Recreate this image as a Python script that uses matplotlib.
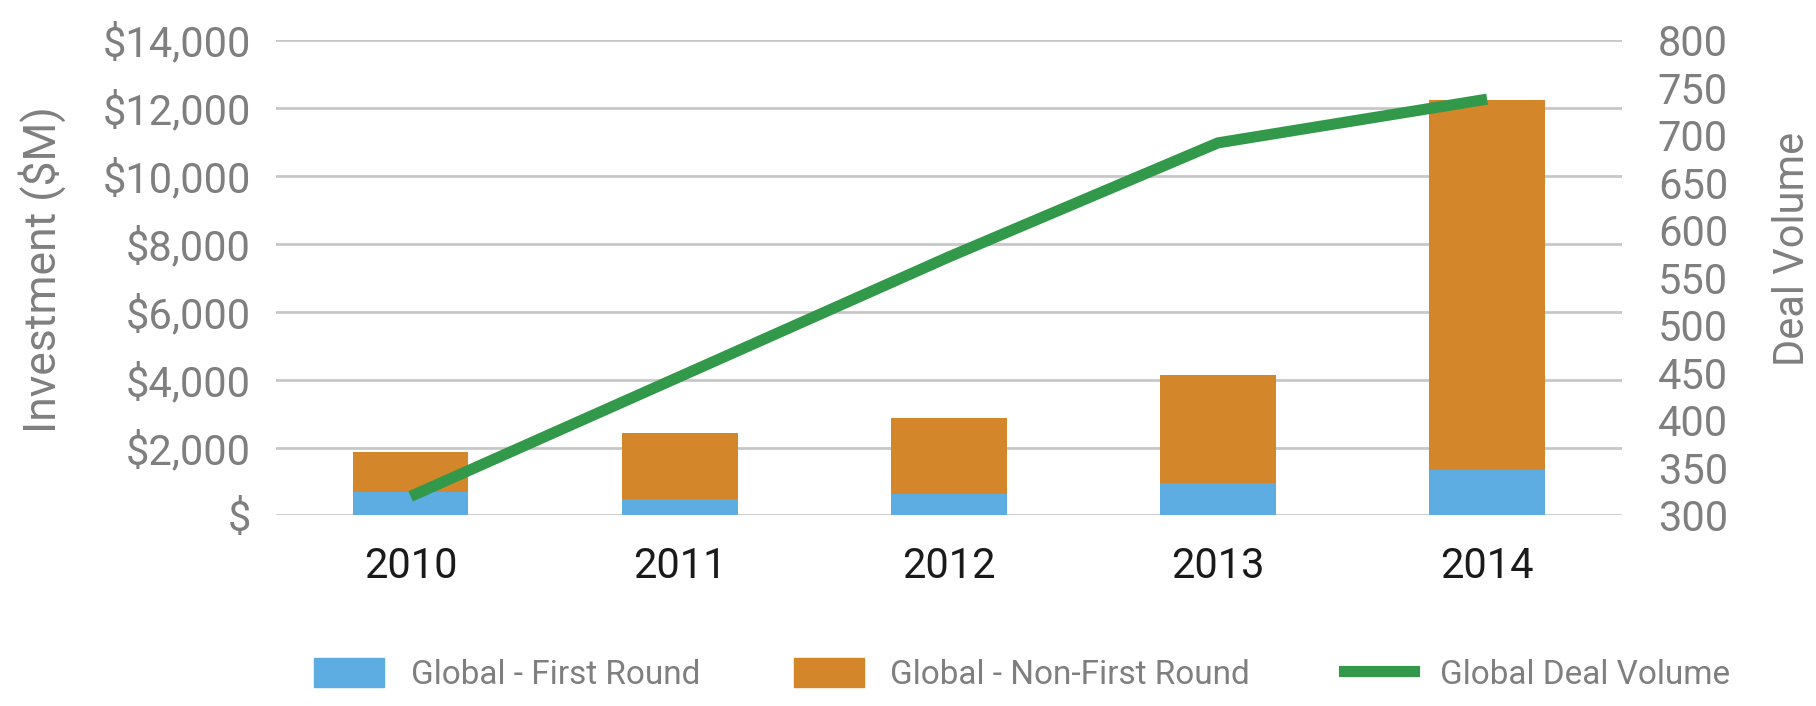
import matplotlib
matplotlib.use("Agg")
import matplotlib.pyplot as plt
from matplotlib.patches import Patch
from matplotlib.lines import Line2D
from matplotlib.ticker import FuncFormatter, MultipleLocator

years = ["2010", "2011", "2012", "2013", "2014"]
first_round = [700, 470, 630, 950, 1350]
non_first_round = [1170, 1970, 2230, 3200, 10900]
deal_volume = [320, 446, 572, 692, 738]

blue = "#5DADE2"
orange = "#D4862A"
green = "#33994A"
gray = "#7F7F7F"

fam = ["Roboto", "DejaVu Sans"]
plt.rcParams["font.family"] = fam

fig = plt.figure(figsize=(18.16, 7.06), dpi=100)
ax = fig.add_axes([0.152, 0.270, 0.741, 0.673])
x = list(range(len(years)))
ax.bar(x, first_round, width=0.43, color=blue, zorder=2)
ax.bar(x, non_first_round, width=0.43, bottom=first_round, color=orange, zorder=2)
ax.set_ylim(0, 14000)
ax.set_xlim(-0.5, 4.5)
ax.yaxis.set_major_locator(MultipleLocator(2000))
ax.yaxis.set_major_formatter(FuncFormatter(lambda v, p: "$" if v == 0 else "${:,.0f}".format(v)))
ax.grid(axis="y", color="#C8C8C8", linewidth=2)
ax.set_axisbelow(True)
ax.set_xticks(x)
ax.set_xticklabels(years)
for s in ax.spines.values():
    s.set_visible(False)
ax.tick_params(axis="y", length=0, labelsize=30, labelcolor=gray, pad=18)
ax.tick_params(axis="x", length=0, labelsize=30, labelcolor="#1A1A1A", pad=22)
ax.set_ylabel("Investment ($M)", fontsize=32, color=gray)
ax.yaxis.set_label_coords(-0.156, 0.518)

ax2 = ax.twinx()
ax2.plot(x, deal_volume, color=green, linewidth=8, solid_capstyle="butt", zorder=3)
ax2.set_ylim(300, 800)
ax2.yaxis.set_major_locator(MultipleLocator(50))
for s in ax2.spines.values():
    s.set_visible(False)
ax2.tick_params(axis="y", length=0, labelsize=30, labelcolor=gray, pad=26)
ax2.set_ylabel("Deal Volume", fontsize=30, color=gray)
ax2.yaxis.set_label_coords(1.112, 0.56)

handles = [Patch(color=blue), Patch(color=orange), Line2D([0], [0], color=green, linewidth=8)]
labels = ["Global - First Round", "Global - Non-First Round", "Global Deal Volume"]
leg = fig.legend(handles, labels, loc="center", bbox_to_anchor=(0.563, 0.045), ncol=3,
                 frameon=False, fontsize=24, handlelength=2.1, handleheight=1.0,
                 columnspacing=2.8, handletextpad=0.8)
for t in leg.get_texts():
    t.set_color(gray)

fig.savefig("out.png", dpi=100, facecolor="white")
